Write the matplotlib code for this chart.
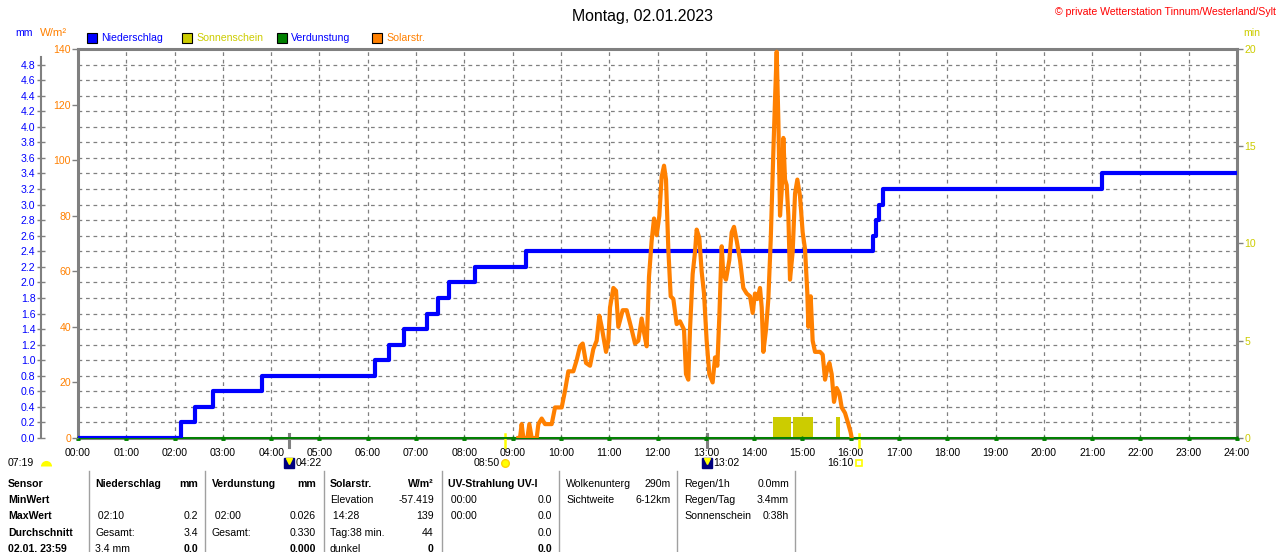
import matplotlib
matplotlib.use('Agg')
import matplotlib.pyplot as plt
from matplotlib.ticker import MultipleLocator
from matplotlib.patches import Rectangle
from matplotlib.lines import Line2D
import matplotlib.transforms as mtransforms

plt.rcParams['font.family'] = ['Liberation Sans', 'DejaVu Sans']

# ---------------- data ----------------
hour_ticks = list(range(25))
hour_labels = ['%02d:00' % h for h in hour_ticks]
mm_ticks = [0.0, 0.2, 0.4, 0.6, 0.8, 1.0, 1.2, 1.4, 1.6, 1.8, 2.0, 2.2, 2.4,
            2.6, 2.8, 3.0, 3.2, 3.4, 3.6, 3.8, 4.0, 4.2, 4.4, 4.6, 4.8]
w_ticks = [0, 20, 40, 60, 80, 100, 120, 140]
min_ticks = [0, 5, 10, 15, 20]

# Niederschlag (cumulative mm), step series
rain_time = [0, 2.13, 2.42, 2.80, 3.82, 6.14, 6.44, 6.75, 7.22, 7.45, 7.68,
             8.22, 9.28, 16.47, 16.52, 16.58, 16.67, 21.20, 24.0]
rain_mm = [0.0, 0.2, 0.4, 0.6, 0.8, 1.0, 1.2, 1.4, 1.6, 1.8, 2.0,
           2.2, 2.4, 2.6, 2.8, 3.0, 3.2, 3.4, 3.4]

# Solarstrahlung (W/m²)
solar_time = [9.118, 9.153, 9.187, 9.222, 9.305, 9.346, 9.395, 9.498, 9.533,
              9.602, 9.671, 9.809, 9.878, 10.016, 10.085, 10.154, 10.257,
              10.326, 10.395, 10.451, 10.520, 10.603, 10.671, 10.740, 10.796,
              10.844, 10.934, 10.982, 11.017, 11.086, 11.141, 11.189, 11.279,
              11.362, 11.465, 11.534, 11.603, 11.672, 11.720, 11.776, 11.824,
              11.879, 11.928, 11.983, 12.038, 12.086, 12.135, 12.176, 12.224,
              12.273, 12.328, 12.397, 12.466, 12.549, 12.590, 12.638, 12.673,
              12.728, 12.777, 12.811, 12.866, 12.914, 12.963, 13.018, 13.073,
              13.142, 13.191, 13.239, 13.281, 13.329, 13.363, 13.418, 13.487,
              13.536, 13.584, 13.640, 13.709, 13.777, 13.847, 13.916, 13.971,
              14.019, 14.067, 14.123, 14.158, 14.192, 14.247, 14.295, 14.344,
              14.399, 14.434, 14.468, 14.503, 14.537, 14.572, 14.606, 14.641,
              14.675, 14.710, 14.744, 14.799, 14.848, 14.896, 14.951, 15.006,
              15.055, 15.103, 15.124, 15.172, 15.213, 15.262, 15.366, 15.421,
              15.469, 15.517, 15.559, 15.607, 15.655, 15.710, 15.766, 15.814,
              15.883, 15.952, 16.000, 16.022]
solar_w = [0, 0, 5, 0, 0, 5, 0, 0, 5,
           7, 5, 5, 11, 11, 17, 24, 24,
           28, 33, 34, 27, 26, 32, 35, 44,
           40, 31, 35, 47, 54, 53, 40, 46,
           46, 39, 34, 35, 43, 38, 33, 58,
           71, 79, 73, 80, 94, 98, 93, 68,
           51, 50, 41, 42, 39, 23, 21, 39,
           59, 67, 75, 72, 60, 52, 35, 23,
           20, 29, 26, 44, 69, 59, 57, 64,
           74, 76, 71, 64, 54, 52, 51, 45,
           52, 50, 54, 47, 31, 39, 50, 71,
           103, 122, 139, 114, 80, 89, 108, 93,
           91, 80, 57, 67, 88, 93, 87, 74,
           68, 52, 40, 51, 35, 31, 31, 30,
           21, 25, 27, 23, 13, 18, 16, 11,
           9, 5, 2, 0]

# Sonnenschein (min) blocks
sun_start = [14.39, 14.81, 15.70]
sun_end = [14.77, 15.22, 15.78]
sun_min = [1.1, 1.1, 1.1]

# Verdunstung (mm)
evap_time = hour_ticks
evap_mm = [0, 0, 0, 0, 0, 0, 0, 0, 0, 0, 0, 0, 0, 0, 0, 0, 0, 0, 0, 0, 0, 0, 0, 0, 0]

# astro events below axis
moon_events = [(4.367, '04:22'), (13.033, '13:02')]
sun_events = [(8.833, '08:50', 'rise'), (16.167, '16:10', 'set')]
left_event = '07:19'

# table
row_labels = ['Sensor', 'MinWert', 'MaxWert', 'Durchschnitt', '02.01. 23:59']
table_cols = [
    # (left x, right x, [(left text, right text, header/bold-right flag)])
    (95, 198, [('Niederschlag', 'mm', 'h'), ('', '', ''), (' 02:10', '0.2', ''),
               ('Gesamt:', '3.4', ''), ('3.4 mm', '0.0', 'b')]),
    (212, 316, [('Verdunstung', 'mm', 'h'), ('', '', ''), (' 02:00', '0.026', ''),
                ('Gesamt:', '0.330', ''), ('', '0.000', 'b')]),
    (330, 434, [('Solarstr.', 'W/m²', 'h'), ('Elevation', '-57.419', ''),
                (' 14:28', '139', ''), ('Tag:38 min.', '44', ''), ('dunkel', '0', 'b')]),
    (448, 552, [('UV-Strahlung UV-I', '', 'h'), (' 00:00', '0.0', ''),
                (' 00:00', '0.0', ''), ('', '0.0', ''), ('', '0.0', 'b')]),
    (566, 671, [('Wolkenunterg', '290m', ''), ('Sichtweite', '6-12km', '')]),
    (684, 789, [('Regen/1h', '0.0mm', ''), ('Regen/Tag', '3.4mm', ''),
                ('Sonnenschein', '0:38h', '')]),
]
table_rows_y = [484, 500, 516, 533, 549]
table_sep_x = [89, 205, 324, 442, 559, 677, 795]

# ---------------- styling ----------------
BLUE = '#0000ff'
ORANGE = '#ff8000'
OLIVE = '#cccc00'
GREEN = '#008000'
GRAY = '#808080'
YELLOW = '#ffff00'
FS = 7.6

W, H = 1280, 552
fig = plt.figure(figsize=(12.8, 5.52), dpi=100)


def fx(x):
    return x / W


def fy(y):
    return 1 - y / H


L, R, T, B = 78, 1237, 49, 438
ax_min = fig.add_axes([fx(L), fy(B), (R - L) / W, (B - T) / H])
ax_mm = ax_min.twinx()
ax_w = ax_min.twinx()

# base axes (minutes, right) + grid
ax_min.yaxis.tick_right()
ax_min.set_axisbelow(True)
ax_min.set_xticks(hour_ticks)
ax_min.set_xticklabels(hour_labels)
ax_min.set_yticks(min_ticks)
ax_min.set_yticklabels([str(v) for v in min_ticks])
ax_min.yaxis.set_minor_locator(MultipleLocator(0.8))
ax_min.tick_params(axis='x', length=0, pad=7, labelsize=FS, colors='black')
ax_min.tick_params(axis='y', which='major', right=True, left=False,
                   labelright=True, labelleft=False, colors=GRAY,
                   labelcolor=OLIVE, length=4.5, width=1, labelsize=FS, pad=1)
ax_min.tick_params(axis='y', which='minor', length=0, right=False, left=False)
ax_min.grid(axis='x', which='major', color=GRAY, linestyle=(0, (3, 3)), linewidth=0.9)
ax_min.grid(axis='y', which='minor', color=GRAY, linestyle=(0, (3, 3)), linewidth=0.9)
for s in ax_min.spines.values():
    s.set_color(GRAY)
    s.set_linewidth(2.2)

ax_min.bar(sun_start, sun_min, width=[e - s for s, e in zip(sun_start, sun_end)],
           align='edge', color=OLIVE, edgecolor='none', zorder=2)

# mm axis (left, outer)
ax_mm.yaxis.tick_left()
ax_mm.yaxis.set_label_position('left')
for s in ['top', 'right', 'bottom']:
    ax_mm.spines[s].set_visible(False)
ax_mm.spines['left'].set_position(('axes', -37 / (R - L)))
ax_mm.spines['left'].set_color(GRAY)
ax_mm.spines['left'].set_linewidth(1.5)
ax_mm.set_yticks(mm_ticks)
ax_mm.set_yticklabels(['%.1f' % v for v in mm_ticks])
ax_mm.tick_params(axis='y', left=True, right=False, labelleft=True, labelright=False,
                  colors=GRAY, labelcolor=BLUE, direction='inout', length=6,
                  width=1, labelsize=FS, pad=1)
ax_mm.plot(evap_time, evap_mm, color=GREEN, lw=1.4, marker='^', ms=2.5,
           clip_on=False, zorder=1.5)
ax_mm.step(rain_time, rain_mm, where='post', color=BLUE, lw=3, zorder=2)

# W/m² axis (left, inner)
ax_w.yaxis.tick_left()
for s in ax_w.spines.values():
    s.set_visible(False)
ax_w.set_yticks(w_ticks)
ax_w.set_yticklabels([str(v) for v in w_ticks])
ax_w.tick_params(axis='y', left=True, right=False, labelleft=True, labelright=False,
                 colors=GRAY, labelcolor=ORANGE, length=4, width=1,
                 labelsize=FS, pad=1)
ax_w.plot(solar_time, solar_w, color=ORANGE, lw=3, solid_joinstyle='round', zorder=3)

ax_min.set_xlim(0, 24)
ax_min.set_ylim(0, 20)
ax_mm.set_ylim(0, 5)
ax_mm.spines['left'].set_bounds(0, 4.9)
ax_w.set_ylim(0, 140)
ax_w.set_xlim(0, 24)
ax_mm.set_xlim(0, 24)

# ---------------- header texts ----------------
fig.text(fx(642), fy(16), 'Montag, 02.01.2023', ha='center', va='center', fontsize=11.4)
fig.text(fx(1276), fy(12), '© private Wetterstation Tinnum/Westerland/Sylt',
         ha='right', va='center', fontsize=FS, color='red')
fig.text(fx(15), fy(33), 'mm', ha='left', va='center', fontsize=FS, color=BLUE)
fig.text(fx(40), fy(33), 'W/m²', ha='left', va='center', fontsize=8.2, color=ORANGE)
fig.text(fx(1243), fy(33), 'min', ha='left', va='center', fontsize=FS, color=OLIVE)

legend_items = [(87, 'Niederschlag', BLUE, BLUE),
                (182, 'Sonnenschein', OLIVE, OLIVE),
                (277, 'Verdunstung', GREEN, BLUE),
                (372, 'Solarstr.', ORANGE, ORANGE)]
for x0, label, fc, tc in legend_items:
    fig.add_artist(Rectangle((fx(x0), fy(43)), 10 / W, 10 / H, transform=fig.transFigure,
                             facecolor=fc, edgecolor='black', linewidth=0.8))
    fig.text(fx(x0 + 14), fy(38), label, ha='left', va='center', fontsize=FS, color=tc)

# ---------------- astro events ----------------
trans = mtransforms.blended_transform_factory(ax_min.transData, fig.transFigure)
ev_y = fy(463)
for t, lab in moon_events:
    ax_min.plot([t, t], [fy(434), fy(447)], transform=trans, color=GRAY, lw=2.2,
                clip_on=False, zorder=6)
    ax_min.plot([t], [ev_y], transform=trans, marker='s', ms=7, color='#000080',
                clip_on=False, zorder=6)
    ax_min.plot([t], [ev_y + 0.004], transform=trans, marker='v', ms=4, color=YELLOW,
                clip_on=False, zorder=7)
    ax_min.annotate(lab, xy=(t, ev_y), xycoords=trans, xytext=(4.5, 0),
                    textcoords='offset points', ha='left', va='center', fontsize=FS)
for t, lab, kind in sun_events:
    ax_min.plot([t, t], [fy(434), fy(447)], transform=trans, color=YELLOW, lw=1.8,
                clip_on=False, zorder=6)
    if kind == 'rise':
        ax_min.plot([t], [ev_y], transform=trans, marker='o', ms=5.5, color=YELLOW,
                    mec='#ffd000', clip_on=False, zorder=6)
    else:
        ax_min.plot([t], [ev_y], transform=trans, marker='s', ms=4, mfc='white',
                    mec=YELLOW, mew=1.2, clip_on=False, zorder=6)
    ax_min.annotate(lab, xy=(t, ev_y), xycoords=trans, xytext=(-3.5, 0),
                    textcoords='offset points', ha='right', va='center', fontsize=FS)

fig.text(fx(8), fy(463), left_event, ha='left', va='center', fontsize=FS)
fig.add_artist(Line2D([fx(46)], [fy(466)], transform=fig.transFigure, marker='o',
                      ms=8, color=YELLOW, fillstyle='top', markerfacecoloralt='none',
                      mec='none'))

# ---------------- table ----------------
for y, lab in zip(table_rows_y, row_labels):
    fig.text(fx(8), fy(y), lab, ha='left', va='center', fontsize=FS, fontweight='bold')
for x0, x1, cells in table_cols:
    for y, (lt, rt, flag) in zip(table_rows_y, cells):
        if lt:
            fig.text(fx(x0), fy(y), lt, ha='left', va='center', fontsize=FS,
                     fontweight='bold' if flag == 'h' else 'normal')
        if rt:
            fig.text(fx(x1), fy(y), rt, ha='right', va='center', fontsize=FS,
                     fontweight='bold' if flag in ('h', 'b') else 'normal')
for x in table_sep_x:
    fig.add_artist(Line2D([fx(x), fx(x)], [fy(471), fy(552)], transform=fig.transFigure,
                          color='#a0a0a0', lw=1))

fig.savefig('out.png', dpi=100)
